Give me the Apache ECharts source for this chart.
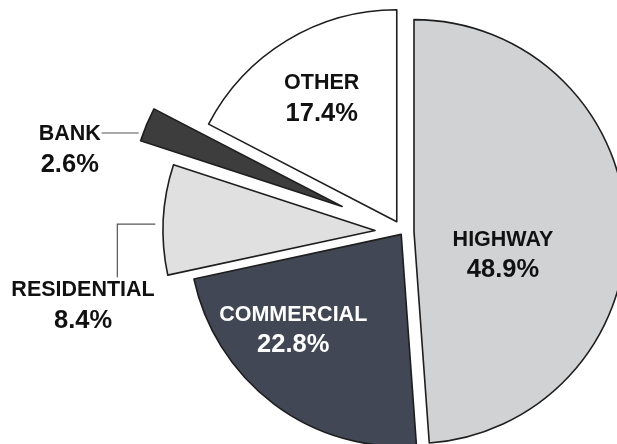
<!DOCTYPE html>
<html><head><meta charset="utf-8">
<script src="https://cdn.jsdelivr.net/npm/echarts@6/dist/echarts.min.js"></script>
<style>html,body{margin:0;padding:0;background:#fff}#c{width:617px;height:444px}</style>
</head><body><div id="c"></div>
<script>
const categories = ['HIGHWAY', 'COMMERCIAL', 'RESIDENTIAL', 'BANK', 'OTHER'];
const shares = [48.9, 22.8, 8.4, 2.6, 17.4];

// styling (not data)
const explode = [11, 3, 28, 66, 12];
const fills = ['#d1d2d4', '#414754', '#e0e0e0', '#3d3d3d', '#ffffff'];
const textColors = ['#111', '#fff', '#111', '#111', '#111'];
const outside = [false, false, true, true, false];
const insideShift = [[-17, 24], [-12, -10], null, null, [19, -17]];
const outsideGeom = {
  2: { center: [-219, 147], line: [[-8, 4.6], [-46, 4.6], [-46, 57.6]] },
  3: { center: [-204, 44.5], line: [[-8, 8.5], [-26, 8.5], [-45, 8.5]] }
};
const FONT = '"Liberation Sans", Arial, sans-serif';

const chart = echarts.init(document.getElementById('c'), null, { renderer: 'canvas' });

const series = categories.map(function (_, k) {
  return {
    type: 'pie',
    center: [403, 232],
    radius: 212,
    startAngle: 90,
    clockwise: true,
    selectedMode: 'multiple',
    selectedOffset: explode[k],
    avoidLabelOverlap: false,
    silent: true,
    animation: false,
    emphasis: { disabled: true },
    data: categories.map(function (name, i) {
      const vis = i === k;
      const style = vis
        ? { color: fills[i], borderColor: '#1e1e1e', borderWidth: 1.6 }
        : { color: 'rgba(0,0,0,0)', borderColor: 'rgba(0,0,0,0)', borderWidth: 0 };
      const label = vis ? {
        show: true,
        position: outside[i] ? 'outside' : 'inside',
        formatter: function (p) { return '{n|' + p.name + '}\n{p|' + p.value.toFixed(1) + '%}'; },
        rich: {
          n: { fontFamily: FONT, fontSize: 21.5, fontWeight: 'bold', color: textColors[i], lineHeight: 30, align: 'center' },
          p: { fontFamily: FONT, fontSize: 25.5, fontWeight: 'bold', color: textColors[i], lineHeight: 31, align: 'center' }
        }
      } : { show: false };
      const labelLine = { show: vis && outside[i], length: 8, length2: 20, smooth: false, lineStyle: { color: '#555', width: 1.2 } };
      return {
        name: name, value: shares[i], selected: vis,
        itemStyle: style,
        label: label,
        labelLine: labelLine,
        select: { itemStyle: style, label: label, labelLine: labelLine }
      };
    }),
    labelLayout: function (p) {
      const i = p.dataIndex;
      if (i !== k) return {};
      const r = p.labelRect;
      const cx = r.x + r.width / 2, cy = r.y + r.height / 2;
      if (!outside[i]) return { dx: insideShift[i][0], dy: insideShift[i][1] };
      if (!p.labelLinePoints) return {};
      const g = outsideGeom[i];
      const p0 = p.labelLinePoints[0];
      return {
        dx: p0[0] + g.center[0] - cx,
        dy: p0[1] + g.center[1] - cy,
        labelLinePoints: g.line.map(function (d) { return [p0[0] + d[0], p0[1] + d[1]]; })
      };
    }
  };
});

chart.setOption({ backgroundColor: '#fff', animation: false, series: series });
</script>
</body></html>
